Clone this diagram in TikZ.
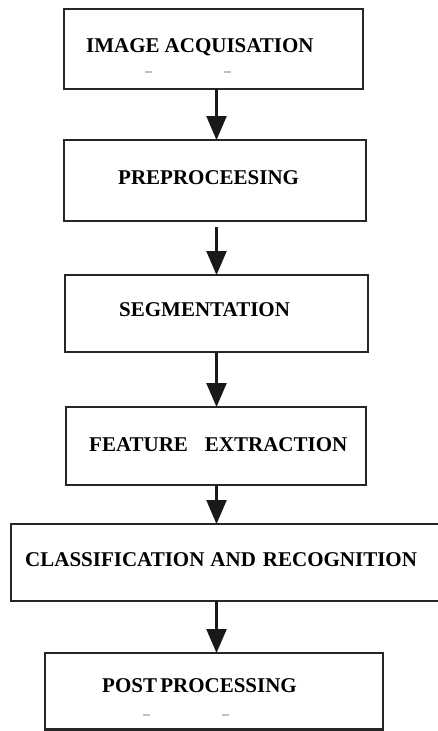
\documentclass[tikz,border=0pt]{standalone}
\usepackage{fontspec}
\setmainfont{Liberation Serif}
\usetikzlibrary{arrows.meta}
\begin{document}
\begin{tikzpicture}[x=1pt,y=-1pt,
  box/.style={draw=black!85, line width=2.1pt, rectangle, inner sep=0pt, outer sep=0pt},
  lbl/.style={anchor=base west, inner sep=0pt, font=\fontsize{21}{25}\selectfont\bfseries},
  arr/.style={draw=black!90, line width=2.4pt, -{Triangle[width=20pt,length=24pt]}},
  smudge/.style={draw=black!25, line width=1.2pt}
]
\useasboundingbox[fill=white] (0,0) rectangle (437,731);
% boxes
\node[box, minimum width=299pt, minimum height=80pt] (b1) at (213.5,49) {};
\node[box, minimum width=302pt, minimum height=81pt] (b2) at (215,180.5) {};
\node[box, minimum width=303pt, minimum height=77pt] (b3) at (216.5,313.5) {};
\node[box, minimum width=300pt, minimum height=78pt] (b4) at (216,446) {};
\node[box, minimum width=439pt, minimum height=77pt] (b5) at (230.5,562.5) {};
\node[box, minimum width=338pt, minimum height=76.5pt] (b6) at (214,691.25) {};
% labels
\node[lbl] (t1) at (86,52) {IMAGE\hspace{5pt}ACQUISATION};
\node[lbl] (t2) at (118,184) {PREPROCEESING};
\node[lbl] (t3) at (119,316) {SEGMENTATION};
\node[lbl] (t4) at (89,451) {FEATURE\hspace{17pt}EXTRACTION};
\node[lbl] (t5) at (25,566) {CLASSIFICATION\hspace{6pt}AND\hspace{7pt}RECOGNITION};
\node[lbl] (t6) at (102,692) {POST\hspace{-2pt} PROCESSING};
% faint marks
\coordinate (m1) at (145,72); \coordinate (m1e) at (152,72);
\coordinate (m2) at (224,72); \coordinate (m2e) at (231,72);
\coordinate (m3) at (143,715); \coordinate (m3e) at (150,715);
\coordinate (m4) at (222,715); \coordinate (m4e) at (229,715);
\draw[smudge] (m1) -- (m1e);
\draw[smudge] (m2) -- (m2e);
\draw[smudge] (m3) -- (m3e);
\draw[smudge] (m4) -- (m4e);
% arrows
\coordinate (ax) at (216.5,0);
\draw[arr] (b1.south -| ax) -- (b2.north -| ax);
\draw[arr] ([yshift=-6pt]b2.south -| ax) -- (b3.north -| ax);
\draw[arr] (b3.south -| ax) -- (b4.north -| ax);
\draw[arr] (b4.south -| ax) -- (b5.north -| ax);
\draw[arr] (b5.south -| ax) -- (b6.north -| ax);
\end{tikzpicture}
\end{document}
